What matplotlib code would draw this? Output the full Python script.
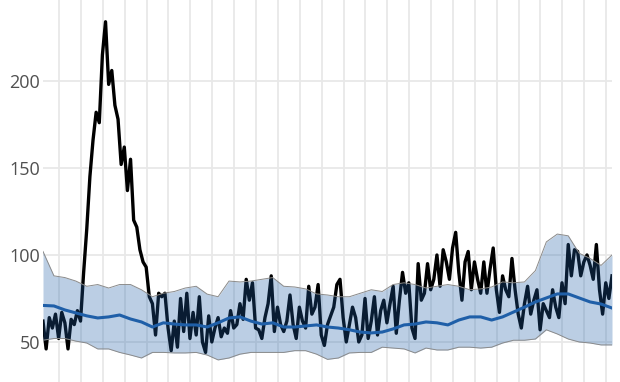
import matplotlib.pyplot as plt
import numpy as np

plt.rcParams["font.family"] = ["Open Sans", "DejaVu Sans"]

# observed daily counts, sampled every 2 days (day 0 .. 364)
obs_day = np.arange(0, 365, 2)
obs_val = [
    62, 46, 64, 58, 66, 52, 67, 61, 46, 63,
    60, 68, 62, 90, 115, 145, 166, 182, 176, 215,
    234, 198, 206, 186, 178, 152, 162, 137, 155, 120,
    116, 103, 96, 93, 76, 72, 54, 78, 76, 78,
    58, 45, 62, 47, 75, 56, 78, 52, 67, 54,
    76, 50, 44, 65, 50, 58, 64, 53, 58, 55,
    68, 58, 60, 72, 63, 86, 74, 84, 58, 57,
    52, 64, 72, 88, 56, 70, 60, 56, 62, 77,
    60, 52, 70, 62, 58, 82, 66, 70, 83, 54,
    48, 60, 65, 70, 83, 86, 64, 50, 60, 70,
    64, 50, 54, 75, 52, 62, 76, 54, 68, 74,
    61, 72, 82, 55, 74, 90, 78, 84, 58, 52,
    95, 74, 78, 95, 80, 86, 100, 82, 103, 96,
    86, 104, 113, 90, 74, 96, 102, 80, 96, 86,
    78, 96, 78, 92, 104, 80, 67, 88, 80, 76,
    98, 80, 66, 58, 72, 82, 66, 74, 80, 57,
    72, 68, 64, 80, 70, 64, 84, 72, 106, 88,
    103, 102, 88, 96, 100, 94, 86, 106, 80, 66,
    84, 75, 88,
]

# expected range, weekly (day 0 .. 364)
band_day = np.arange(0, 365, 7)
band_hi = [
    102, 88, 87, 85, 82, 83, 81, 83, 83, 80,
    76, 78, 79, 81, 82, 77.5, 76, 85, 84.5, 85,
    86, 87, 82, 81.6, 80.5, 77.6, 77, 76, 76, 78,
    80, 79, 83, 84, 83, 81, 82, 83, 82, 80,
    80.5, 81.6, 84.5, 84, 84.5, 91, 107.5, 112, 111, 101,
    98, 94, 100,
]
band_lo = [
    51, 52, 52, 50.5, 49.4, 46, 46, 44, 42.5, 40.8,
    44, 44, 43.7, 43.7, 44, 42.5, 39.7, 40.8, 43, 44,
    44, 44, 44, 45, 45, 43, 40, 40.8, 43.7, 44,
    44, 47, 46.5, 46, 43.7, 46.5, 45.4, 45.4, 47, 47,
    46.5, 47, 49.4, 51, 51, 51.7, 57, 54.6, 51.7, 50,
    49.4, 48.3, 48.3,
]
band_mid = [
    71, 70.7, 68.4, 66.7, 65, 63.8, 64.4, 65.5, 63.2, 61.5,
    58.6, 61, 60.3, 59.8, 59.8, 58.6, 61, 63.8, 64.4, 62,
    60.3, 61, 58.6, 58.6, 59.2, 59.8, 58.6, 58, 57, 55.7,
    55.2, 55.7, 57.5, 59.8, 60.3, 61.5, 61, 59.8, 62.6, 64.4,
    64.4, 62.6, 64.4, 67.2, 70, 73, 75.3, 77.6, 77.6, 75.3,
    73, 71.8, 69.5,
]

y_ticks = [50, 100, 150, 200]
grid_days = np.arange(10.25, 365, 14)

BLUE = "#1f5fa8"

fig = plt.figure(figsize=(6.2, 3.82), dpi=100)
ax = fig.add_axes([43 / 620, 0, 569 / 620, 1])

ax.plot(obs_day, obs_val, color="black", linewidth=2.4, zorder=2)
ax.fill_between(band_day, band_lo, band_hi, color=BLUE, alpha=0.3,
                linewidth=0, zorder=3)
ax.plot(band_day, band_hi, color="#8a8a8a", linewidth=0.7, zorder=3)
ax.plot(band_day, band_lo, color="#8a8a8a", linewidth=0.7, zorder=3)
ax.plot(band_day, band_mid, color=BLUE, linewidth=2.2, zorder=4)

ax.set_xlim(0, 364)
ax.set_ylim(27, 246.5)
ax.set_yticks(y_ticks)
ax.set_xticks(grid_days)
ax.set_xticklabels([])
ax.grid(True, color="#e8e8e8", linewidth=1.3, zorder=0)
ax.set_axisbelow(True)
ax.tick_params(length=0, labelsize=13, labelcolor="#505050", pad=2)
for s in ax.spines.values():
    s.set_visible(False)

fig.savefig("out.png", dpi=100)
